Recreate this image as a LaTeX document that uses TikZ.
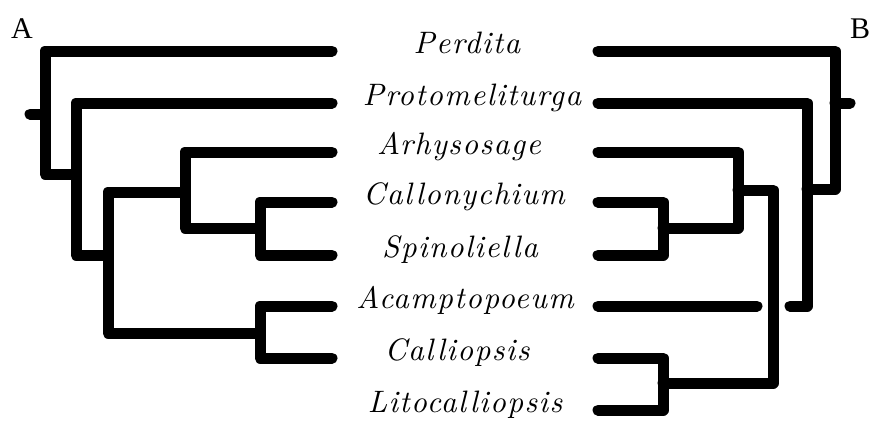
\documentclass[tikz,border=0pt]{standalone}
\usepackage{fontspec}
\newfontfamily\labelfont{Liberation Serif}
\newfontfamily\taxonfont{lmroman10-italic.otf}[LetterSpace=4.5]

\begin{document}
\begin{tikzpicture}[x=1pt,y=-1pt,
  branch/.style={line width=11pt, line cap=round, line join=round},
  taxon/.style={anchor=mid, inner sep=0pt, font=\fontsize{31}{32}\selectfont\taxonfont},
  treelabel/.style={anchor=base, inner sep=0pt, font=\fontsize{30}{31}\selectfont\labelfont}]
\useasboundingbox (0,0) rectangle (870,421);

% taxa in the middle
\node[taxon] (perdita) at (467,51) {Perdita};
\node[taxon] (protomeliturga) at (472,103) {Protomeliturga};
\node[taxon] (arhysosage) at (459,152) {Arhysosage};
\node[taxon] (callonychium) at (464,202) {Callonychium};
\node[taxon] (spinoliella) at (460,255) {Spinoliella};
\node[taxon] (acamptopoeum) at (465,306) {Acamptopoeum};
\node[taxon] (calliopsis) at (457,358) {Calliopsis};
\node[taxon] (litocalliopsis) at (465,410) {Litocalliopsis};

\node[treelabel] (labelA) at (22,38) {A};
\node[treelabel] (labelB) at (860,38) {B};

% tree A
\draw[branch] (332,51) -- (45,51) -- (45,174) -- (76,174);
\draw[branch] (30,114) -- (45,114);
\draw[branch] (332,103) -- (76,103) -- (76,255) -- (108,255);
\draw[branch] (332,152) -- (185,152) -- (185,228) -- (260,228);
\draw[branch] (185,192) -- (108,192) -- (108,333) -- (260,333);
\draw[branch] (332,202) -- (260,202) -- (260,255) -- (332,255);
\draw[branch] (332,306) -- (260,306) -- (260,358) -- (332,358);

% tree B
\draw[branch] (598,51) -- (835,51) -- (835,189) -- (807,189);
\draw[branch] (835,103) -- (850,103);
\draw[branch] (598,103) -- (807,103) -- (807,306) -- (790,306);
\draw[branch] (598,152) -- (738,152) -- (738,228) -- (663,228);
\draw[branch] (738,190) -- (773,190) -- (773,383) -- (663,383);
\draw[branch] (598,202) -- (663,202) -- (663,255) -- (598,255);
\draw[branch] (598,306) -- (757,306);
\draw[branch] (598,358) -- (663,358) -- (663,410) -- (598,410);
\end{tikzpicture}
\end{document}
